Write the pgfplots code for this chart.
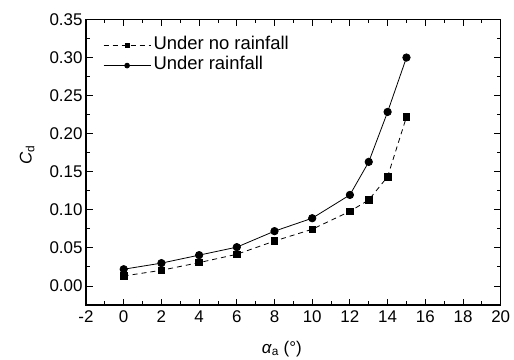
\documentclass[border=0pt]{standalone}
\usepackage{fontspec}
\setmainfont{Liberation Sans}
\usepackage{pgfplots}
\pgfplotsset{compat=1.18}
\begin{document}
\begin{tikzpicture}[x=1bp,y=1bp]
\begin{axis}[
  at={(0,0)}, anchor=south west,
  scale only axis, width=414.7bp, height=285.5bp,
  xmin=-2, xmax=20, ymin=-0.025, ymax=0.35,
  xtick={-2,0,2,4,6,8,10,12,14,16,18,20},
  ytick={0,0.05,0.10,0.15,0.20,0.25,0.30,0.35},
  minor x tick num=1, minor y tick num=1,
  tick align=inside,
  major tick length=6.5bp, minor tick length=4bp,
  axis line style={line width=1.2bp},
  every tick/.style={line width=0.9bp, black},
  /pgf/number format/assume math mode=true,
  every tick label/.append style={font=\fontsize{17}{19}\selectfont},
  yticklabel style={/pgf/number format/.cd, fixed, fixed zerofill, precision=2},
  xticklabel style={yshift=-2bp},
  xlabel={\textit{α}\textsubscript{a} (°)},
  ylabel={\textit{C}\textsubscript{d}},
  label style={font=\fontsize{17}{20}\selectfont},
  xlabel style={at={(axis description cs:0.472,-0.113)}, anchor=north},
  ylabel style={at={(axis description cs:-0.142,0.525)}, anchor=center},
  legend image code/.code={\draw[mark repeat=2,mark phase=2,#1,every mark/.append style={scale=0.65}] plot coordinates {(0bp,0bp) (23.5bp,0bp) (47bp,0bp)};},
  legend style={draw=none, fill=none, inner sep=0pt,
    at={(axis description cs:0.041,0.94)}, anchor=north west,
    font=\fontsize{18.5}{21}\selectfont,
    nodes={inner xsep=2.5bp, inner ysep=0bp, text height=12.5bp, text depth=4bp},
    row sep=4bp},
  legend cell align=left,
]
\addplot[black, line width=0.8bp, dash pattern=on 5bp off 4bp, mark=square*, mark size=3.3bp, mark options={solid}]
  coordinates {(0,0.0131) (2,0.0206) (4,0.0307) (6,0.0416) (8,0.059) (10,0.0745) (12,0.098) (13,0.113) (14,0.1435) (15,0.222)};
\addlegendentry{Under no rainfall}
\addplot[black, line width=0.8bp, mark=*, mark size=3.7bp]
  coordinates {(0,0.022) (2,0.030) (4,0.0405) (6,0.051) (8,0.072) (10,0.089) (12,0.1196) (13,0.163) (14,0.2286) (15,0.300)};
\addlegendentry{Under rainfall}
\end{axis}
\pgfresetboundingbox
\path[use as bounding box] (-86,-54) rectangle (428,305);
\end{tikzpicture}
\end{document}
